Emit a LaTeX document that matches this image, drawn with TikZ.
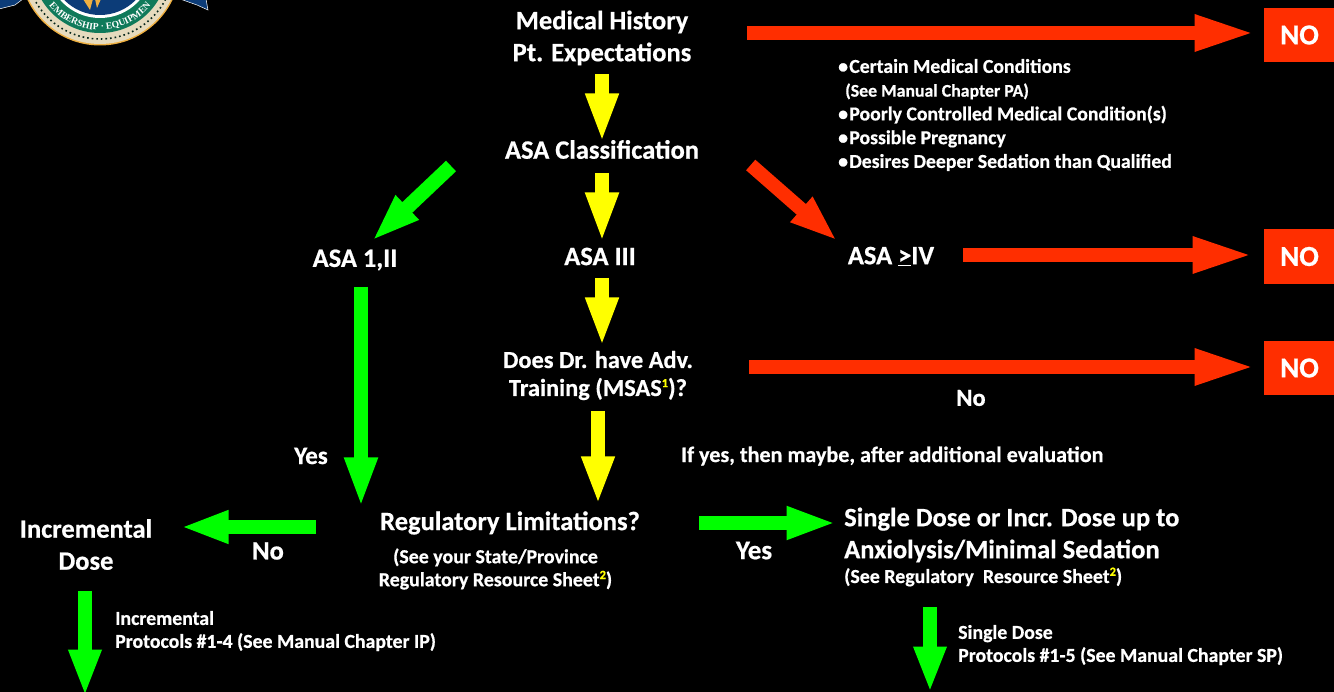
\documentclass[tikz,border=0pt]{standalone}
\usepackage{fontspec}
\setmainfont[BoldFeatures={FakeBold=0.6}]{Carlito}
\newfontfamily\logofont{Liberation Serif}
\usetikzlibrary{arrows.meta,decorations.text}
\definecolor{rd}{HTML}{FF2E00}
\definecolor{gr}{HTML}{00FF00}
\definecolor{yl}{HTML}{FFFF00}
\definecolor{logoblue}{HTML}{0C3C78}
\definecolor{logogreen}{HTML}{0F7A5A}
\definecolor{logorim}{HTML}{E6DBBE}
\definecolor{logogold}{HTML}{EFB041}
\newcommand{\supy}[1]{\raisebox{.36em}{\fontsize{12.5}{12.5}\selectfont\textcolor{yl}{#1}}}
\newcommand{\bul}{•\hspace{1.3pt}}
\tikzset{
  x=1pt,y=-1pt,
  txt/.style={text=white,inner sep=0pt,font=\bfseries\fontsize{#1}{#1}\selectfont},
  big/.style={text=white,inner sep=0pt,align=center,font=\bfseries\fontsize{26.5}{32}\selectfont},
  med/.style={text=white,inner sep=0pt,align=center,font=\bfseries\fontsize{19.9}{23}\selectfont},
  lft/.style={text=white,inner sep=0pt,align=left,anchor=west,font=\bfseries\fontsize{19.8}{23}\selectfont},
  nobox/.style={fill=rd,text=white,inner sep=0pt,minimum width=71pt,font=\bfseries\fontsize{29}{29}\selectfont},
  blockarrow/.style={line width=#1,line cap=butt,shorten >=-4.5pt},
  redarrow/.style={blockarrow=14pt,rd,-{Triangle[width=33pt,length=61pt,color=rd]}},
  reddiag/.style={blockarrow=14pt,rd,-{Triangle[width=30pt,length=48pt,color=rd]}},
  grnarrow/.style={blockarrow=14.5pt,gr,-{Triangle[width=30pt,length=#1,color=gr]}},
  ylwarrow/.style={blockarrow=14.5pt,yl,-{Triangle[width=30pt,length=#1,color=yl]}},
}
\begin{document}
\begin{tikzpicture}
\useasboundingbox (0,0) rectangle (1334,692);
\fill[black] (0,0) rectangle (1334,692);

% logo, cut by the page's top edge
\begin{scope}
\clip (0,0) rectangle (1334,692);
\fill[logoblue,draw=white,line width=.5pt] (-1,-1) -- (23,-1) -- (15,5) -- (-1,9) -- cycle;
\fill[logoblue,draw=white,line width=.5pt] (180,-1) -- (206,-1) -- (208,10) -- (197,5) -- cycle;
\coordinate (logoc) at (100,-35);
\fill[logogold] (logoc) circle[radius=80.5pt];
\fill[logorim] (logoc) circle[radius=79pt];
\draw[black!70!logogreen,line width=1.6pt,dash pattern=on 1.6pt off 3pt] (logoc) circle[radius=74pt];
\fill[logogreen] (logoc) circle[radius=68pt];
\fill[white] (logoc) circle[radius=53pt];
\fill[logoblue] (logoc) circle[radius=50pt];
\fill[logogold] (83,-1) -- (90,10) -- (93,-1) -- cycle;
\fill[logogold] (95,-1) -- (97,8) -- (101,-1) -- cycle;
\path[decorate,decoration={text along path,text align={center},
  text={|\logofont\bfseries\fontsize{9.5}{9.5}\selectfont\color{white}|EMBERSHIP · EQUIPMEN}}]
  (38.9,-12.8) arc[start angle=200,end angle=340,radius=65pt];
\end{scope}

% text
\node[big] (hist) at (602,38) {Medical History\\Pt. Expectations};
\node[big] (cls) at (602,149.5) {ASA Classification};
\node[big] (a12) at (355,260) {ASA 1,II};
\node[big] (a3) at (600,256.5) {ASA III};
\node[big] (a4) at (891,256.5) {ASA \underline{>}IV};
\node[text=white,inner sep=0pt,align=center,font=\bfseries\fontsize{24.4}{28}\selectfont] (adv) at (598,375.5) {Does Dr. have Adv.\\Training (MSAS\supy{1})?};
\node[txt=24.5] (nol) at (971,398) {No};
\node[txt=22.1,anchor=west] (maybe) at (681,456) {If yes, then maybe, after additional evaluation};
\node[txt=25] (yes1) at (311,456) {Yes};
\node[big] (reg) at (510,523) {Regulatory Limitations?};
\node[med] (regs) at (495.5,569) {(See your State/Province\\Regulatory Resource Sheet\supy{2})};
\node[big] (inc) at (86,544.5) {Incremental\\Dose};
\node[txt=26.5] (no2) at (268,551) {No};
\node[txt=27] (yes2) at (754,550.5) {Yes};
\node[big,align=left,anchor=west] (single) at (844,535) {Single Dose or Incr. Dose up to\\Anxiolysis/Minimal Sedation};
\node[med,anchor=west] (singles) at (844,577) {(See Regulatory\ \ Resource Sheet\supy{2})};
\node[lft] (incp) at (115,631) {Incremental\\Protocols \#1-4 (See Manual Chapter IP)};
\node[lft] (sinp) at (958,645) {Single Dose\\Protocols \#1-5 (See Manual Chapter SP)};
\node[text=white,inner sep=0pt,align=left,anchor=west,font=\bfseries\fontsize{19.75}{23.75}\selectfont] (list) at (838,115)
 {\bul Certain Medical Conditions\\
  \hspace*{7pt}{\fontsize{17.8}{15}\selectfont (See Manual Chapter PA)}\\
  \bul Poorly Controlled Medical Condition(s)\\
  \bul Possible Pregnancy\\
  \bul Desires Deeper Sedation than Qualified};

% NO boxes
\node[nobox,minimum height=54pt,anchor=center] (no_a) at (1299.5,35) {NO};
\node[nobox,minimum height=55pt] (no_b) at (1299.5,256.5) {NO};
\node[nobox,minimum height=54pt] (no_c) at (1299.5,368) {NO};

% connector ends
\coordinate (r1s) at (747,33);   \coordinate (r1e) at (1251,33);
\coordinate (r2s) at (963,255);  \coordinate (r2e) at (1249,255);
\coordinate (r3s) at (749,367);  \coordinate (r3e) at (1251,367);
\coordinate (r4s) at (750.7,165);\coordinate (r4e) at (834,238);
\coordinate (g1s) at (451,166);  \coordinate (g1e) at (375,238);
\coordinate (g2s) at (361,287);  \coordinate (g2e) at (361,503);
\coordinate (g3s) at (316,527);  \coordinate (g3e) at (185,527);
\coordinate (g4s) at (699,523);  \coordinate (g4e) at (832,523);
\coordinate (g5s) at (85,591);   \coordinate (g5e) at (85,692);
\coordinate (g6s) at (930,607);  \coordinate (g6e) at (930,688);
\coordinate (y1s) at (602,74);   \coordinate (y1e) at (602,138);
\coordinate (y2s) at (602,173);  \coordinate (y2e) at (602,238);
\coordinate (y3s) at (602,278);  \coordinate (y3e) at (602,342);
\coordinate (y4s) at (598,411);  \coordinate (y4e) at (598,500);

% connectors
\draw[redarrow] (r1s) -- (r1e);
\draw[redarrow] (r2s) -- (r2e);
\draw[redarrow] (r3s) -- (r3e);
\draw[reddiag] (r4s) -- (r4e);
\draw[grnarrow=49pt] (g1s) -- (g1e);
\draw[grnarrow=50pt] (g2s) -- (g2e);
\draw[grnarrow=48pt] (g3s) -- (g3e);
\draw[grnarrow=50pt] (g4s) -- (g4e);
\draw[grnarrow=47pt] (g5s) -- (g5e);
\draw[grnarrow=46pt] (g6s) -- (g6e);
\draw[ylwarrow=49pt] (y1s) -- (y1e);
\draw[ylwarrow=50pt] (y2s) -- (y2e);
\draw[ylwarrow=49pt] (y3s) -- (y3e);
\draw[ylwarrow=48pt] (y4s) -- (y4e);
\end{tikzpicture}
\end{document}
